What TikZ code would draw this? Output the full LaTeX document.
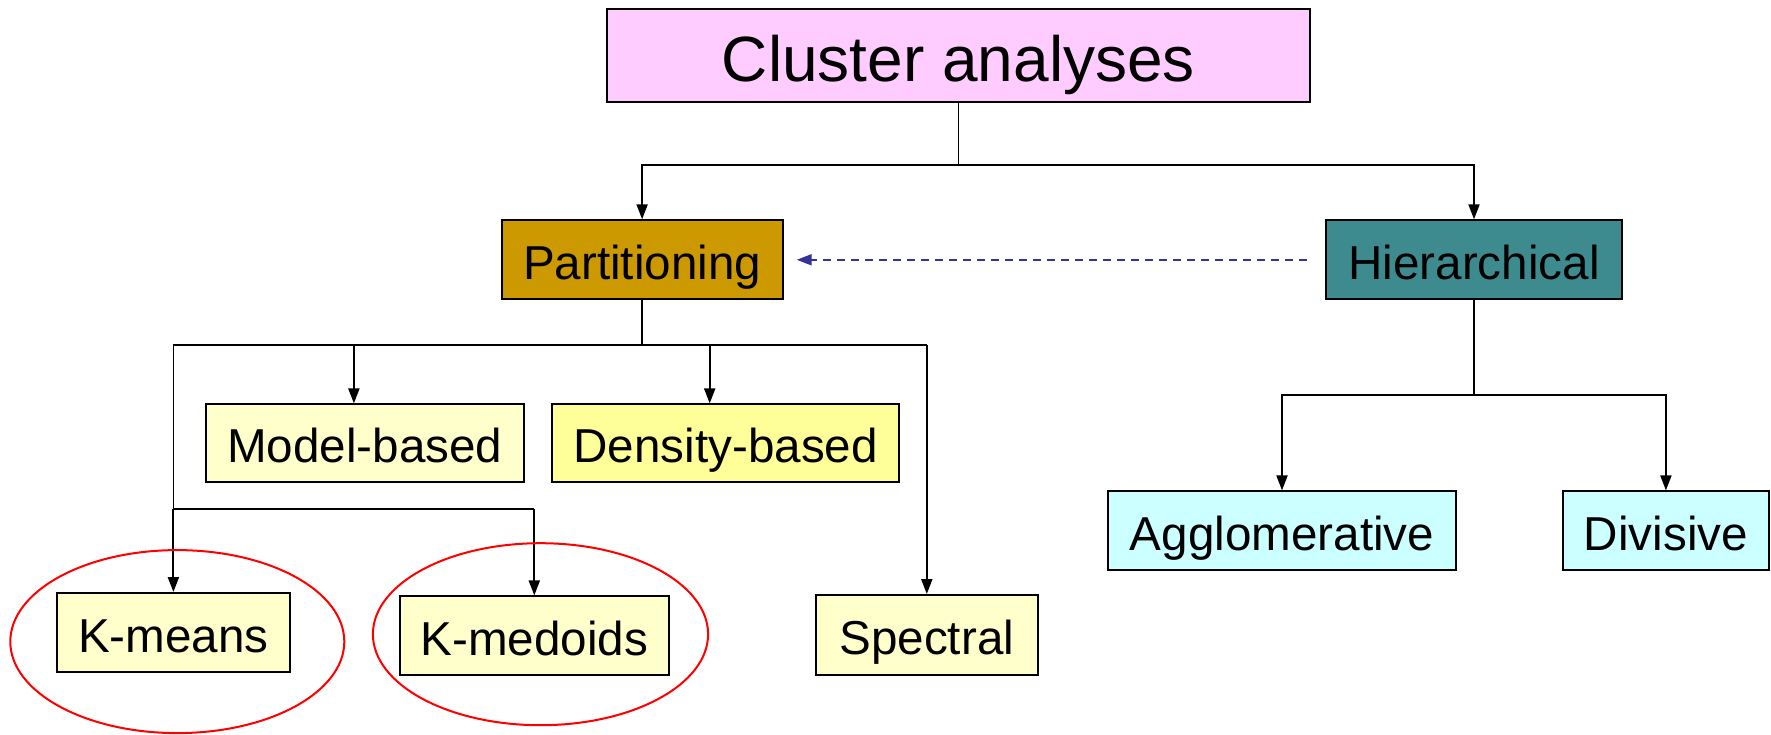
\documentclass[tikz,border=0pt]{standalone}
\usepackage{fontspec}
\setmainfont{Liberation Sans}
\usetikzlibrary{arrows.meta,calc}
\definecolor{cpink}{HTML}{FFCCFF}
\definecolor{cgold}{HTML}{CC9900}
\definecolor{cteal}{HTML}{3E8B8F}
\definecolor{cpale}{HTML}{FFFFCC}
\definecolor{cyel}{HTML}{FFFF99}
\definecolor{ccyan}{HTML}{CCFFFF}
\definecolor{cnavy}{HTML}{333399}
\tikzset{
  box/.style={draw=black, line width=1pt, inner sep=0pt, text=black,
    font=\fontsize{23.8}{28}\selectfont, text height=19.5pt, text depth=0pt},
  arr/.style={line width=1pt, -{Triangle[length=7.5pt,width=5.5pt]}},
  ln/.style={line width=0.9pt},
  ring/.style={draw=red, line width=1pt},
}
\begin{document}
\begin{tikzpicture}[x=0.5pt,y=-0.5pt]
\useasboundingbox (0,0) rectangle (1771,734);
\node[box, fill=cpink, minimum width=351.8pt, minimum height=46.3pt,
  font=\fontsize{32}{38}\selectfont, text height=26.2pt] (clu) at (958.4,55.4) {Cluster analyses};
\node[box, fill=cgold, minimum width=140.6pt, minimum height=39.5pt] (part) at (642.1,259.8) {Partitioning};
\node[box, fill=cteal, minimum width=148pt, minimum height=39.5pt] (hier) at (1474,259.8) {Hierarchical};
\node[box, fill=cpale, minimum width=159.3pt, minimum height=39pt] (model) at (364.9,443.4) {Model-based};
\node[box, fill=cyel, minimum width=173.4pt, minimum height=39pt] (dens) at (725.7,443.4) {Density-based};
\node[box, fill=cpale, minimum width=116.9pt, minimum height=39.5pt] (kmeans) at (173.4,632.5) {K-means};
\node[box, fill=cpale, minimum width=134.5pt, minimum height=39.5pt] (kmed) at (534.3,635.9) {K-medoids};
\node[box, fill=cpale, minimum width=111.3pt, minimum height=40.2pt] (spec) at (926.8,635.2) {Spectral};
\node[box, fill=ccyan, minimum width=174pt, minimum height=39.5pt] (agg) at (1282,530.9) {Agglomerative};
\node[box, fill=ccyan, minimum width=102.9pt, minimum height=39.5pt] (div) at (1665.9,530.9) {Divisive};

% top level
\draw[ln] (clu.south) -- ++(0,62) coordinate (j1);
\draw[arr] (j1) -| (part.north);
\draw[arr] (j1) -| (hier.north);

% dashed link
\draw[line width=1pt, cnavy, dash pattern=on 4pt off 3pt, -{Triangle[length=7.5pt,width=5.5pt]}]
  ([xshift=-9pt]hier.west) -- ([xshift=6.5pt]part.east);

% partitioning branch
\draw[ln] (part.south) -- ++(0,45) coordinate (j2);
\coordinate (mtop) at ([xshift=-5.5pt]model.north);
\coordinate (dtop) at ([xshift=-8pt]dens.north);
\draw[ln] (j2 -| kmeans.north) -- (j2 -| spec.north);
\draw[arr] (j2 -| mtop) -- (mtop);
\draw[arr] (j2 -| dtop) -- (dtop);
\draw[arr] (j2 -| spec.north) -- (spec.north);
\path (kmeans.north) ++(0,-83) coordinate (j3);
\draw[ln] (j2 -| kmeans.north) -- (j3);
\draw[ln] (j3) -- (j3 -| kmed.north);
\draw[arr] (j3) -- (kmeans.north);
\draw[arr] (j3 -| kmed.north) -- (kmed.north);

% hierarchical branch
\draw[ln] (hier.south) -- ++(0,95) coordinate (j4);
\draw[arr] (j4) -| (agg.north);
\draw[arr] (j4) -| (div.north);

% highlight rings
\draw[ring] (177.3,641.6) ellipse [x radius=83.5pt, y radius=45.75pt];
\draw[ring] (540.5,634.2) ellipse [x radius=83.8pt, y radius=45.5pt];
\end{tikzpicture}
\end{document}
